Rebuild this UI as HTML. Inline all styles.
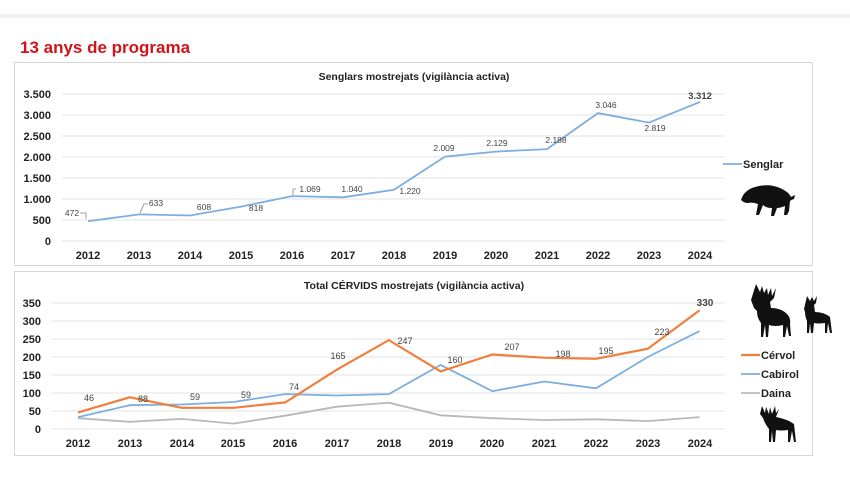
<!DOCTYPE html>
<html><head><meta charset="utf-8"><style>
body{margin:0;background:#fff;width:850px;height:478px;overflow:hidden}
svg{display:block}
text{font-family:"Liberation Sans",Arial,sans-serif}
</style></head><body>
<svg width="850" height="478" viewBox="0 0 850 478">
<rect x="0" y="14" width="850" height="4" fill="#f0f0f0"/>
<text x="20" y="53" font-size="17" font-weight="bold" fill="#d0141a">13 anys de programa</text>
<rect x="14.5" y="62.5" width="798" height="203" fill="#fff" stroke="#d6d6d6"/>
<rect x="14.5" y="271.5" width="798" height="184" fill="#fff" stroke="#d6d6d6"/>
<g stroke="#e3e3e3" stroke-width="1">
<line x1="62" x2="725" y1="94" y2="94"/><line x1="62" x2="725" y1="115" y2="115"/><line x1="62" x2="725" y1="136" y2="136"/><line x1="62" x2="725" y1="157" y2="157"/><line x1="62" x2="725" y1="178" y2="178"/><line x1="62" x2="725" y1="199" y2="199"/><line x1="62" x2="725" y1="220" y2="220"/><line x1="62" x2="725" y1="241" y2="241"/>
<line x1="52" x2="725" y1="303" y2="303"/><line x1="52" x2="725" y1="321" y2="321"/><line x1="52" x2="725" y1="339" y2="339"/><line x1="52" x2="725" y1="357" y2="357"/><line x1="52" x2="725" y1="375" y2="375"/><line x1="52" x2="725" y1="393" y2="393"/><line x1="52" x2="725" y1="411" y2="411"/><line x1="52" x2="725" y1="429" y2="429"/>
</g>
<text x="414" y="80" font-size="10.5" font-weight="bold" text-anchor="middle" fill="#222">Senglars mostrejats (vigilància activa)</text>
<g font-size="11" font-weight="bold" fill="#222" text-anchor="end">
<text x="51" y="98">3.500</text><text x="51" y="119">3.000</text><text x="51" y="140">2.500</text><text x="51" y="161">2.000</text><text x="51" y="182">1.500</text><text x="51" y="203">1.000</text><text x="51" y="224">500</text><text x="51" y="245">0</text>
</g>
<g font-size="11" font-weight="bold" fill="#222" text-anchor="middle">
<text x="88" y="259">2012</text><text x="139" y="259">2013</text><text x="190" y="259">2014</text><text x="241" y="259">2015</text><text x="292" y="259">2016</text><text x="343" y="259">2017</text><text x="394" y="259">2018</text><text x="445" y="259">2019</text><text x="496" y="259">2020</text><text x="547" y="259">2021</text><text x="598" y="259">2022</text><text x="649" y="259">2023</text><text x="700" y="259">2024</text>
</g>
<polyline fill="none" stroke="#7eaede" stroke-width="1.8" points="88,221.2 139,214.4 190,215.5 241,206.6 292,196.1 343,197.3 394,189.8 445,156.6 496,151.6 547,149.1 598,113.1 649,122.6 700,101.9"/>
<g font-size="8.5" fill="#444" text-anchor="middle">
<text x="72" y="216">472</text><text x="156" y="206">633</text><text x="204" y="210">608</text><text x="256" y="211">818</text><text x="310" y="192">1.069</text><text x="352" y="192">1.040</text><text x="410" y="194">1.220</text><text x="444" y="151">2.009</text><text x="497" y="146">2.129</text><text x="556" y="143">2.188</text><text x="606" y="108">3.046</text><text x="655" y="131">2.819</text><text x="700" y="99" font-weight="bold" font-size="9.5">3.312</text>
</g>
<g stroke="#888" fill="none" stroke-width="0.8"><path d="M80,213 h6 v6"/><path d="M140,213 l4,-9 h4"/><path d="M293,195 v-6 h3"/></g>
<line x1="723" y1="164" x2="742" y2="164" stroke="#7eaede" stroke-width="1.8"/>
<text x="743" y="168" font-size="11" font-weight="bold" fill="#222">Senglar</text>
<path d="M741,200 q3,-10 14,-13 q14,-4 25,1 q9,4 11,9 l4,-2 l-1,4 q-3,1 -4,2 l-1,10 l-2,4 h-3 l1,-9 q-5,2 -8,2 l-3,8 h-3 l1,-8 q-6,0 -9,-3 l-4,10 h-3 l2,-11 q-5,-2 -10,-1 q-4,0 -7,-3 z" fill="#111"/>
<text x="414" y="289" font-size="10.5" font-weight="bold" text-anchor="middle" fill="#222">Total CÉRVIDS mostrejats (vigilància activa)</text>
<g font-size="11" font-weight="bold" fill="#222" text-anchor="end">
<text x="41" y="307">350</text><text x="41" y="325">300</text><text x="41" y="343">250</text><text x="41" y="361">200</text><text x="41" y="379">150</text><text x="41" y="397">100</text><text x="41" y="415">50</text><text x="41" y="433">0</text>
</g>
<g font-size="11" font-weight="bold" fill="#222" text-anchor="middle">
<text x="78" y="447">2012</text><text x="130" y="447">2013</text><text x="182" y="447">2014</text><text x="233" y="447">2015</text><text x="285" y="447">2016</text><text x="337" y="447">2017</text><text x="389" y="447">2018</text><text x="441" y="447">2019</text><text x="492" y="447">2020</text><text x="544" y="447">2021</text><text x="596" y="447">2022</text><text x="648" y="447">2023</text><text x="700" y="447">2024</text>
</g>
<polyline fill="none" stroke="#b8b8b8" stroke-width="1.8" points="78,418.2 129.8,421.8 181.6,418.9 233.4,423.6 285.2,415.7 337,406.7 388.8,402.7 440.6,415.3 492.4,418.2 544.2,420 596,419.3 647.8,421.1 699.6,417.1"/>
<polyline fill="none" stroke="#7eaede" stroke-width="1.8" points="78,417.1 129.8,405.2 181.6,404.5 233.4,402 285.2,394.1 337,395.5 388.8,394.1 440.6,364.9 492.4,391.2 544.2,381.5 596,388.3 647.8,357 699.6,331.1"/>
<polyline fill="none" stroke="#f07f3c" stroke-width="2.2" points="78,412.4 129.8,397.3 181.6,407.8 233.4,407.8 285.2,402.4 337,369.6 388.8,340.1 440.6,371.4 492.4,354.5 544.2,357.7 596,358.8 647.8,348.7 699.6,310.2"/>
<g font-size="9" fill="#444" text-anchor="middle">
<text x="89" y="401">46</text><text x="143" y="402">88</text><text x="195" y="400">59</text><text x="246" y="398">59</text><text x="294" y="390">74</text><text x="338" y="359">165</text><text x="405" y="344">247</text><text x="455" y="363">160</text><text x="512" y="350">207</text><text x="563" y="357">198</text><text x="606" y="354">195</text><text x="662" y="335">223</text><text x="705" y="306" font-weight="bold" font-size="10">330</text>
</g>
<line x1="741" y1="355" x2="760" y2="355" stroke="#f07f3c" stroke-width="2.2"/>
<line x1="741" y1="374" x2="760" y2="374" stroke="#7eaede" stroke-width="1.8"/>
<line x1="741" y1="393" x2="760" y2="393" stroke="#b8b8b8" stroke-width="1.8"/>
<g font-size="11" font-weight="bold" fill="#222"><text x="761" y="359">Cérvol</text><text x="761" y="378">Cabirol</text><text x="761" y="397">Daina</text></g>
<g fill="#111">
<path d="M756,284 l4,8 l2,-6 l2,7 l3,-5 l1,7 l3,-7 l1,8 l4,-8 l-2,10 l-4,4 l1,6 q10,0 16,6 q4,4 3,10 l1,12 h-2 l-2,-10 l-2,11 h-2 l0,-12 q-8,2 -14,0 l-1,12 h-2 l-1,-12 l-2,12 h-2 l0,-14 q-4,-5 -4,-12 l-3,-3 l-3,-8 z"/>
<path d="M807,296 l3,5 l2,-4 l2,4 l3,-5 l-1,7 l-2,2 l1,7 q9,0 15,5 l2,16 h-2 l-2,-10 l-1,10 h-2 l0,-10 q-7,1 -11,0 l-1,10 h-2 l-1,-10 l-1,10 h-2 l0,-12 q-2,-5 -2,-9 l-1,-3 z"/>
<path d="M762,406 l3,7 l1,-6 l3,7 l1,-7 l2,7 l3,-8 l1,7 l3,-4 l-3,8 q11,2 18,7 l2,18 h-2 l-2,-11 l-2,11 h-2 l0,-12 q-7,1 -12,0 l-1,12 h-2 l-1,-11 l-1,11 h-2 l0,-13 q-4,-5 -6,-11 l-3,-4 z"/>
</g>
</svg>
</body></html>
